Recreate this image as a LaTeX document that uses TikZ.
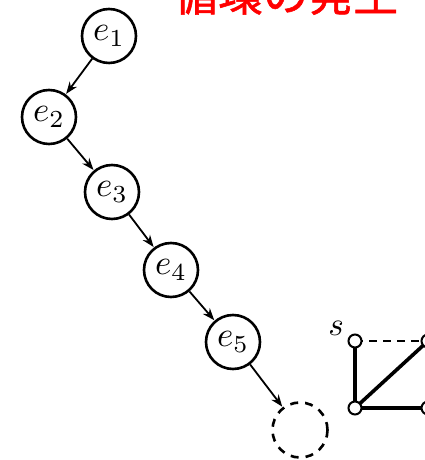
\documentclass[tikz,border=0pt]{standalone}
\usepackage{fontspec}
\newfontfamily\cjk{Noto Sans CJK JP}
\usetikzlibrary{arrows.meta}
\newcommand{\biglab}[1]{\scalebox{3.5}{$#1$}}
\tikzset{
  enode/.style={circle, draw, line width=2.6pt, minimum size=54pt, inner sep=0pt},
  dnode/.style={circle, draw, line width=2.6pt, minimum size=55pt, inner sep=0pt,
    dash pattern=on 8pt off 7pt},
  earrow/.style={line width=1.8pt, -{Stealth[length=12pt,width=9pt]}, shorten >=0.5pt},
  vnode/.style={circle, draw, line width=2pt, fill=white, minimum size=13pt, inner sep=0pt},
  thickedge/.style={line width=3.6pt},
  dashedge/.style={line width=2pt, dash pattern=on 8pt off 6pt},
}
\begin{document}
\begin{tikzpicture}[x=1pt,y=1pt]
\useasboundingbox (0,0) rectangle (425,460);
\clip (0,0) rectangle (425,460);
\fill[white] (0,0) rectangle (425,460);
\node[anchor=base west, text=red, inner sep=0pt, font=\cjk\fontsize{45}{45}\selectfont] (title) at (173,449) {\addfontfeatures{FakeBold=1.2}循環の発生};
\node[enode] (e1) at (109,424) {\biglab{e_1}};
\node[enode] (e2) at (49,343) {\biglab{e_2}};
\node[enode] (e3) at (112,268) {\biglab{e_3}};
\node[enode] (e4) at (171,190) {\biglab{e_4}};
\node[enode] (e5) at (233,118) {\biglab{e_5}};
\node[dnode] (e6) at (300,30) {};
\draw[earrow] (e1) -- (e2);
\draw[earrow] (e2) -- (e3);
\draw[earrow] (e3) -- (e4);
\draw[earrow] (e4) -- (e5);
\draw[earrow] (e5) -- (e6);
\node[inner sep=0pt] (slab) at (336,132) {\scalebox{3.3}{$s$}};
\coordinate (pa) at (355,119);
\coordinate (pb) at (355,52);
\coordinate (pc) at (428,119);
\coordinate (pd) at (428,52);
\draw[dashedge] (pa) -- (pc);
\draw[thickedge] (pa) -- (pb);
\draw[thickedge] (pb) -- (pc);
\draw[thickedge] (pb) -- (pd);
\node[vnode] (va) at (pa) {};
\node[vnode] (vb) at (pb) {};
\node[vnode] (vc) at (pc) {};
\node[vnode] (vd) at (pd) {};
\end{tikzpicture}
\end{document}
